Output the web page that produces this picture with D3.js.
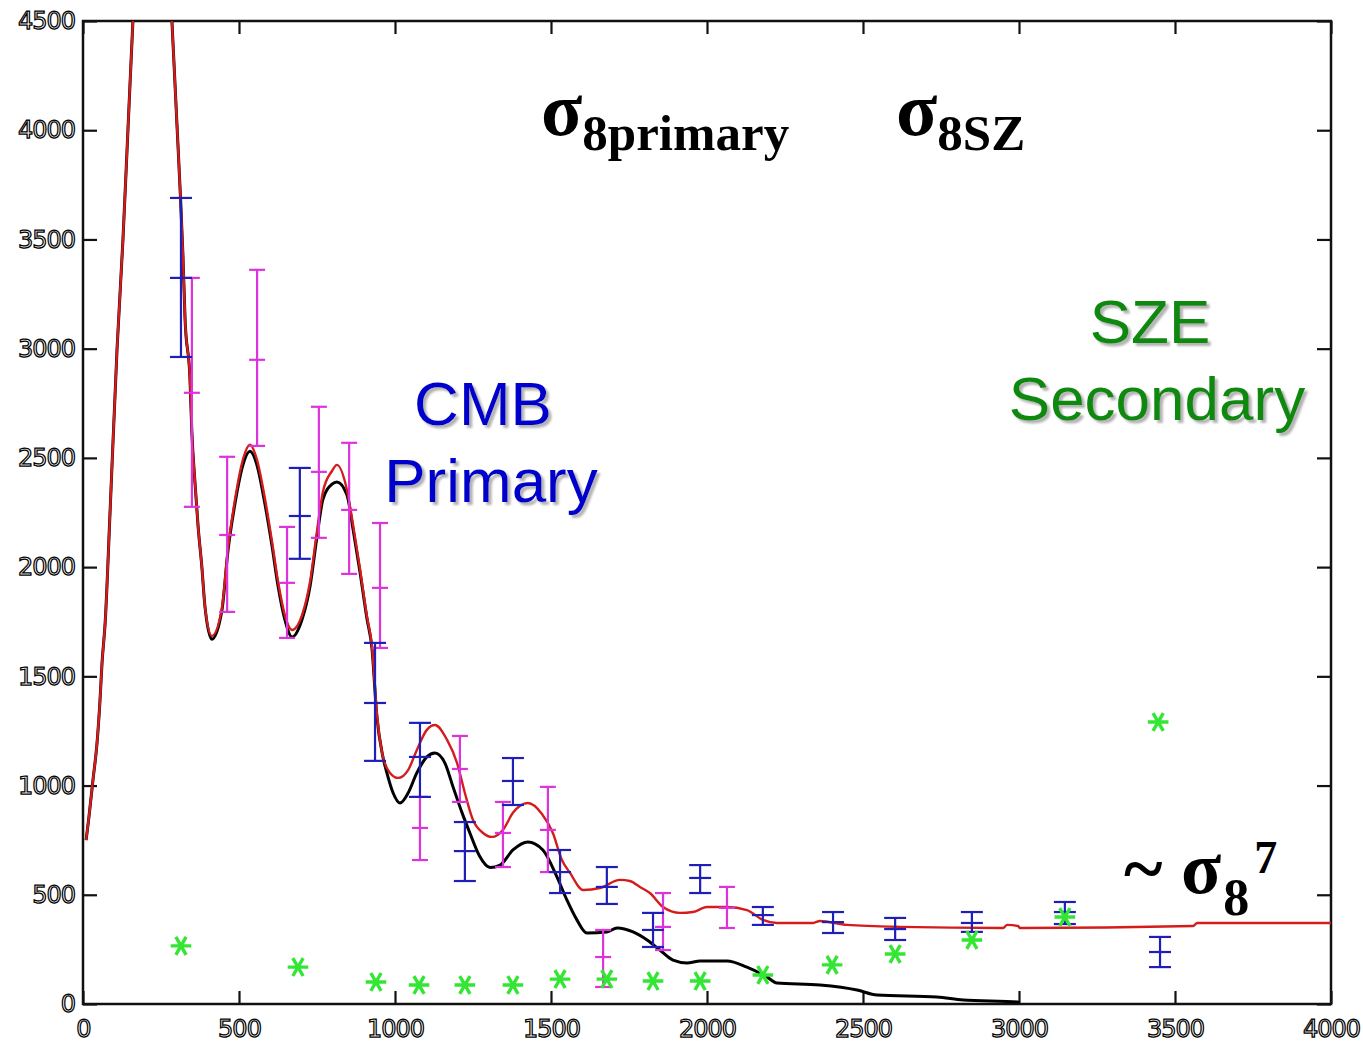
<!DOCTYPE html>
<html>
<head>
<meta charset="utf-8">
<script src="https://cdn.jsdelivr.net/npm/d3@7"></script>
<style>
  html, body { margin: 0; padding: 0; background: #fff; }
  svg { display: block; }
</style>
</head>
<body>
<svg id="chart" width="1363" height="1043"></svg>
<script>
// Multipole ell and band power D_ell (uK^2)

// Primary CMB model (black)
const primaryCurve = [
  [10, 750], [19, 856], [32, 1026], [45, 1195], [54, 1378], [61, 1561], [71, 1745],
  [87, 2262], [109, 2995], [128, 3498], [144, 4000], [160, 4500], [190, 5300],
  [220, 5650], [250, 5300], [285, 4500], [301, 4030], [311, 3736], [320, 3440],
  [327, 3140], [343, 2857], [349, 2615], [359, 2385], [369, 2184], [381, 2000],
  [391, 1818], [413, 1670], [445, 1800], [465, 2079], [487, 2290], [513, 2470],
  [535, 2530], [557, 2470], [583, 2290], [606, 2095], [625, 1915], [647, 1760],
  [670, 1680], [702, 1760], [728, 1915], [750, 2140], [769, 2310], [798, 2380],
  [814, 2390], [846, 2330], [866, 2170], [888, 1975], [910, 1765], [926, 1630],
  [942, 1314], [960, 1140], [974, 1058], [994, 966], [1016, 920], [1042, 966],
  [1070, 1058], [1102, 1131], [1128, 1149], [1160, 1103], [1186, 994], [1215, 875],
  [1240, 783], [1270, 680], [1305, 625], [1337, 636], [1378, 705], [1426, 742],
  [1474, 705], [1519, 582], [1551, 476], [1583, 385], [1615, 325], [1679, 330],
  [1712, 348], [1763, 330], [1808, 293], [1849, 247], [1891, 201], [1936, 188],
  [1978, 197], [2064, 197], [2128, 169], [2192, 124], [2224, 96], [2362, 87],
  [2481, 64], [2545, 41], [2737, 32], [2821, 18], [2997, 9], [3000, 5]
];

// Primary + SZ secondary model (red)
const totalCurve = [
  [10, 750], [19, 856], [32, 1026], [45, 1195], [54, 1378], [61, 1561], [71, 1745],
  [87, 2262], [109, 2995], [128, 3498], [144, 4000], [160, 4500], [190, 5300],
  [220, 5650], [250, 5300], [285, 4500], [301, 4030], [311, 3736], [320, 3440],
  [327, 3140], [343, 2857], [349, 2615], [359, 2385], [369, 2184], [381, 2000],
  [391, 1818], [413, 1685], [445, 1810], [465, 2090], [487, 2308], [513, 2495],
  [535, 2560], [557, 2495], [583, 2315], [606, 2115], [625, 1935], [647, 1780],
  [670, 1712], [702, 1780], [728, 1935], [750, 2165], [769, 2345], [798, 2440],
  [814, 2468], [846, 2353], [866, 2190], [888, 1990], [910, 1775], [926, 1640],
  [942, 1330], [960, 1140], [984, 1058], [1010, 1035], [1042, 1071], [1070, 1163],
  [1102, 1255], [1128, 1277], [1167, 1209], [1199, 1103], [1224, 966], [1250, 842],
  [1282, 783], [1311, 765], [1346, 797], [1378, 875], [1426, 920], [1471, 870],
  [1506, 783], [1535, 659], [1561, 600], [1603, 522], [1657, 531], [1721, 568],
  [1753, 563], [1785, 536], [1817, 508], [1859, 444], [1913, 417], [1955, 421],
  [2000, 444], [2064, 444], [2128, 430], [2179, 385], [2224, 371], [2340, 371],
  [2362, 380], [2449, 362], [2619, 353], [2949, 348], [2962, 362], [2997, 357],
  [3003, 348], [3558, 357], [3571, 371], [4000, 371]
];

// Band powers, first experiment (blue)
const blueEll = [314, 695, 936, 1080, 1224, 1378, 1529, 1679, 1827, 1978, 2179, 2404, 2603, 2849, 3147, 3452];
const blueVal = [3324, 2234, 1378, 1131, 700, 1021, 604, 536, 339, 577, 407, 375, 343, 371, 421, 238];
const blueHi  = [3690, 2454, 1653, 1287, 833, 1126, 705, 627, 417, 636, 444, 421, 394, 421, 467, 307];
const blueLo  = [2962, 2038, 1113, 948, 563, 911, 508, 458, 261, 508, 362, 325, 293, 330, 366, 169];

// Band powers, second experiment (magenta)
const magEll = [349, 462, 558, 654, 756, 853, 952, 1080, 1208, 1346, 1490, 1667, 1859, 2064];
const magVal = [2798, 2147, 2949, 1928, 2436, 2262, 1905, 806, 1076, 783, 797, 215, 353, 440];
const magHi  = [3324, 2505, 3361, 2184, 2734, 2569, 2202, 948, 1227, 925, 994, 339, 508, 536];
const magLo  = [2276, 1795, 2555, 1676, 2134, 1969, 1630, 659, 925, 627, 604, 78, 247, 348];

// SZ secondary power (green stars)
const szEll = [314, 689, 939, 1077, 1224, 1378, 1529, 1679, 1827, 1978, 2179, 2401, 2603, 2849, 3147, 3446];
const szVal = [266, 169, 101, 87, 87, 87, 114, 114, 105, 105, 133, 179, 229, 293, 398, 1291];

// Axis ticks
const xTicks = [0, 500, 1000, 1500, 2000, 2500, 3000, 3500, 4000];
const yTicks = [0, 500, 1000, 1500, 2000, 2500, 3000, 3500, 4000, 4500];

const svg = d3.select("#chart");
const plot = { left: 83, right: 1331, top: 21, bottom: 1004 };

const x = d3.scaleLinear().domain([0, 4000]).range([plot.left, plot.right]);
const y = d3.scaleLinear().domain([0, 4500]).range([plot.bottom, plot.top]);

const defs = svg.append("defs");
defs.append("clipPath").attr("id", "plotClip")
  .append("rect")
  .attr("x", plot.left).attr("y", plot.top)
  .attr("width", plot.right - plot.left).attr("height", plot.bottom - plot.top);

defs.append("filter").attr("id", "softShadow")
  .attr("x", "-10%").attr("y", "-10%").attr("width", "130%").attr("height", "140%")
  .append("feDropShadow")
  .attr("dx", 3).attr("dy", 3).attr("stdDeviation", 0.9)
  .attr("flood-color", "#9a9a9a").attr("flood-opacity", 0.75);

// Axes with inward ticks on all four sides
const fmt = d3.format("d");
const tickLabelStyle = sel => sel
  .attr("font-family", "DejaVu Sans")
  .attr("font-size", 24)
  .attr("fill", "#fff")
  .attr("stroke", "#000")
  .attr("stroke-width", 1.25)
  .attr("letter-spacing", -1);

const gx = svg.append("g")
  .attr("transform", `translate(0,${plot.bottom})`)
  .call(d3.axisBottom(x).tickValues(xTicks).tickFormat(fmt).tickSize(-13).tickPadding(16));
gx.select(".domain").remove();
gx.selectAll(".tick line").attr("stroke", "#111").attr("stroke-width", 2.2);
gx.selectAll(".tick text").call(tickLabelStyle);

const gxt = svg.append("g")
  .attr("transform", `translate(0,${plot.top})`)
  .call(d3.axisTop(x).tickValues(xTicks).tickSize(-13).tickFormat(""));
gxt.select(".domain").remove();
gxt.selectAll(".tick line").attr("stroke", "#111").attr("stroke-width", 2.2);

const gy = svg.append("g")
  .attr("transform", `translate(${plot.left},0)`)
  .call(d3.axisLeft(y).tickValues(yTicks).tickFormat(fmt).tickSize(-14).tickPadding(8));
gy.select(".domain").remove();
gy.selectAll(".tick line").attr("stroke", "#111").attr("stroke-width", 2.2);
gy.selectAll(".tick text").call(tickLabelStyle);

const gyr = svg.append("g")
  .attr("transform", `translate(${plot.right},0)`)
  .call(d3.axisRight(y).tickValues(yTicks).tickSize(-14).tickFormat(""));
gyr.select(".domain").remove();
gyr.selectAll(".tick line").attr("stroke", "#111").attr("stroke-width", 2.2);

// Frame
svg.append("rect")
  .attr("x", plot.left).attr("y", plot.top)
  .attr("width", plot.right - plot.left).attr("height", plot.bottom - plot.top)
  .attr("fill", "none").attr("stroke", "#111").attr("stroke-width", 2.5);

// Model curves
const line = d3.line()
  .x(d => x(d[0]))
  .y(d => y(d[1]))
  .curve(d3.curveMonotoneX);

const curves = svg.append("g").attr("clip-path", "url(#plotClip)");
curves.append("path").datum(primaryCurve)
  .attr("d", line).attr("fill", "none")
  .attr("stroke", "#000").attr("stroke-width", 3);
curves.append("path").datum(totalCurve)
  .attr("d", line).attr("fill", "none")
  .attr("stroke", "#d41c1c").attr("stroke-width", 2.4);

// Error bars with caps and a centre tick
function errorBars(ells, vals, his, los, color, capW, width) {
  const g = svg.append("g").attr("stroke", color).attr("stroke-width", width).attr("fill", "none");
  ells.forEach((l, i) => {
    const cx = x(l);
    g.append("line").attr("x1", cx).attr("x2", cx).attr("y1", y(his[i])).attr("y2", y(los[i]));
    [his[i], vals[i], los[i]].forEach(v => {
      g.append("line")
        .attr("x1", cx - capW / 2).attr("x2", cx + capW / 2)
        .attr("y1", y(v)).attr("y2", y(v));
    });
  });
}
errorBars(magEll, magVal, magHi, magLo, "#dd33dd", 16, 2.2);
errorBars(blueEll, blueVal, blueHi, blueLo, "#1f1fb8", 22, 2.2);

// SZ secondary points
const star = d3.symbol().type(d3.symbolAsterisk).size(300);
svg.append("g").selectAll("path")
  .data(szEll.map((l, i) => [l, szVal[i]]))
  .join("path")
  .attr("d", star)
  .attr("transform", d => `translate(${x(d[0])},${y(d[1])}) rotate(90)`)
  .attr("fill", "none")
  .attr("stroke", "#33e633")
  .attr("stroke-width", 3.4);

// Region labels with soft drop shadow
function shadowLabel(text, cx, by, color) {
  svg.append("text")
    .attr("x", cx).attr("y", by)
    .attr("font-family", "Liberation Sans, Arial, sans-serif")
    .attr("font-size", 62)
    .attr("text-anchor", "middle")
    .attr("fill", color)
    .attr("filter", "url(#softShadow)")
    .text(text);
}
shadowLabel("CMB", 483, 425, "#0000cc");
shadowLabel("Primary", 491, 502, "#0000cc");
shadowLabel("SZE", 1150, 343, "#118a11");
shadowLabel("Secondary", 1157, 420, "#118a11");

// sigma_8 labels
function sigmaLabel(sub, lx, by) {
  const t = svg.append("text")
    .attr("x", lx).attr("y", by)
    .attr("font-family", "Liberation Serif, Times New Roman, serif")
    .attr("font-weight", "bold")
    .attr("fill", "#000");
  t.append("tspan").attr("font-size", 76).text("σ");
  t.append("tspan").attr("font-size", 51).attr("dy", 15).text(sub);
}
sigmaLabel("8primary", 541, 135);
sigmaLabel("8SZ", 896, 135);

const scaling = svg.append("text")
  .attr("x", 1124).attr("y", 893)
  .attr("font-family", "Liberation Serif, Times New Roman, serif")
  .attr("font-weight", "bold")
  .attr("fill", "#000");
scaling.append("tspan").attr("font-size", 74).text("~ σ");
scaling.append("tspan").attr("font-size", 52).attr("dy", 22).attr("dx", 2).text("8");
scaling.append("tspan").attr("font-size", 46).attr("dy", -42).attr("dx", 5).text("7");
</script>
</body>
</html>
